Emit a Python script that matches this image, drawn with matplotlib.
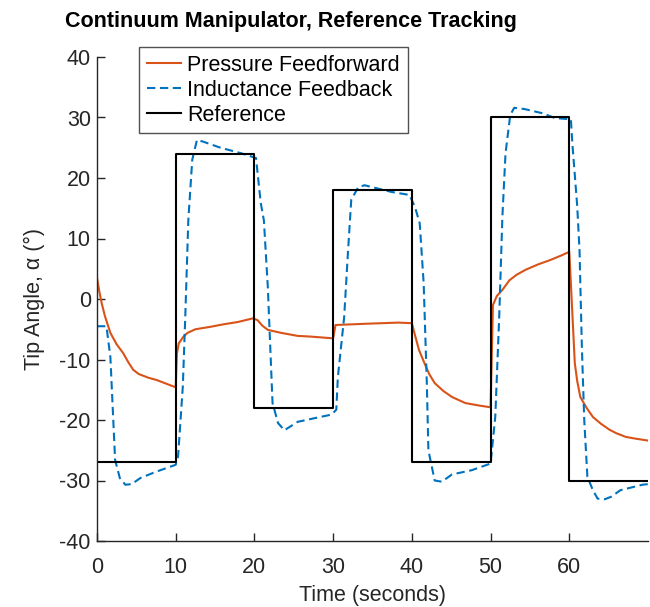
import matplotlib
matplotlib.use('Agg')
import matplotlib.pyplot as plt

# reference step input
ref_t = [0, 10, 20, 30, 40, 50, 60, 70]
ref_v = [-27, 24, -18, 18, -27, 30, -30, -30]

# pressure feedforward response
ff_t = [0, 0.3, 0.6, 1.0, 1.7, 2.5, 3.3, 4.0, 4.6, 5.3, 6.5, 7.6, 9.0, 10.0,
        10.15, 10.4, 11.0, 11.5, 12.5, 14.4, 16.0, 17.9, 19.8,
        20.4, 21.0, 21.7, 23.4, 25.5, 27, 30.0,
        30.3, 34, 38.3, 40.0,
        40.4, 40.9, 41.6, 42.2, 42.9, 44.0, 45.1, 46.8, 48.5, 50.0,
        50.3, 50.8, 51.5, 52.4, 53.3, 54.4, 56.0, 57.5, 59.0, 60.0,
        60.3, 60.7, 61.0, 61.4, 62.2, 63.0, 64.0, 65.1, 66.0, 67.2, 68.5, 70]
ff_v = [3.5, 1.2, -0.7, -2.8, -5.6, -7.5, -8.9, -10.5, -11.7, -12.4, -13.0, -13.4, -14.1, -14.6,
        -9, -7.3, -6.2, -5.6, -5.0, -4.6, -4.2, -3.8, -3.2,
        -3.5, -4.4, -5.1, -5.6, -6.1, -6.2, -6.5,
        -4.3, -4.1, -3.9, -4.0,
        -6.0, -8.4, -10.6, -12.4, -13.9, -15.2, -16.2, -17.2, -17.6, -17.9,
        -1.0, 0.5, 1.5, 3.1, 4.0, 4.8, 5.7, 6.4, 7.2, 7.8,
        0, -10.6, -13.5, -16.2, -18.0, -19.5, -20.6, -21.6, -22.2, -22.8, -23.1, -23.4]

# inductance feedback response
fb_t = [0, 1.2, 1.7, 2.3, 2.9, 3.6, 4.4, 5.5, 7.4, 10.0, 10.3, 10.9, 11.2, 11.6,
        12.1, 12.7, 13.5, 15.7, 18.3, 20.2, 20.8, 21.2, 21.7, 22.3, 23.0, 23.8,
        25.5, 28, 29.8, 30.4, 30.6, 31.4, 31.9, 32.3, 33.2, 34, 37.4, 39.7, 40.4,
        41.0, 41.5, 41.9, 42.1, 42.9, 43.8, 45.1, 47.6, 50.0, 50.6, 51.1, 51.5,
        51.9, 52.5, 53, 54.3, 56.6, 58.2, 60.2, 60.4, 61.0, 61.3, 61.6, 61.9,
        62.3, 63.0, 63.6, 64.5, 65.3, 66.5, 69.3, 70]
fb_v = [-4.5, -4.5, -9.6, -26.6, -29.6, -30.7, -30.6, -29.6, -28.6, -27.4, -26,
        -14.5, -3.5, 13, 23, 26.3, 26, 25, 24.1, 23.3, 15.9, 13, 2, -17.2, -20.5,
        -21.7, -20.3, -19.6, -19.1, -18.3, -12.9, -3, 8.1, 16.4, 18.5, 18.8, 17.7,
        17.2, 15.2, 12.5, 2.6, -13.9, -25, -30, -30.2, -29, -28.3, -27.2, -19.4,
        -2.9, 13.6, 24.1, 30.4, 31.6, 31.4, 30.7, 29.9, 29.7, 25.5, 15.5, 8.1,
        -8, -20, -29.4, -31.6, -33, -33.1, -32.7, -31.6, -30.7, -30.6]

plt.rcParams['font.family'] = ['Liberation Sans', 'DejaVu Sans']
plt.rcParams['axes.unicode_minus'] = False
fs = 15.5
axc = '#262626'

fig = plt.figure(figsize=(6.5, 6.07), dpi=100)
ax = fig.add_axes([97/650, 1 - 541/607, (648 - 97)/650, (541 - 57)/607])

ax.plot(ff_t, ff_v, color='#D95319', lw=1.5, label='Pressure Feedforward')
ax.plot(fb_t, fb_v, color='#0072BD', lw=1.5, dashes=(4, 2.2), label='Inductance Feedback')
ax.plot(ref_t, ref_v, color='black', lw=1.5, drawstyle='steps-post', label='Reference')

ax.set_xlim(0, 70)
ax.set_ylim(-40, 40)
ax.set_xticks(range(0, 61, 10))
ax.set_yticks(range(-40, 41, 10))
ax.spines['top'].set_visible(False)
ax.spines['right'].set_visible(False)
for s in ['left', 'bottom']:
    ax.spines[s].set_color(axc)
    ax.spines[s].set_linewidth(1.0)
ax.tick_params(direction='in', length=6, width=1.0, colors=axc, labelsize=fs)
ax.tick_params(axis='x', pad=11.5)
ax.tick_params(axis='y', pad=4.5)
for lab in ax.get_xticklabels() + ax.get_yticklabels():
    lab.set_color(axc)

ax.set_xlabel('Time (seconds)', fontsize=fs, color=axc, labelpad=5)
ax.set_ylabel('Tip Angle, α (°)', fontsize=fs, color=axc, labelpad=10)
fig.text(65/650, 1 - 27/607, 'Continuum Manipulator, Reference Tracking',
         fontsize=fs, fontweight='bold', ha='left', va='baseline')

leg = ax.legend(loc='upper left', bbox_to_anchor=(139/650, 1 - 47/607),
                bbox_transform=fig.transFigure, fontsize=fs, frameon=True,
                fancybox=False, edgecolor=axc, handlelength=1.6, handletextpad=0.3,
                labelspacing=0.19, borderpad=0.35, borderaxespad=0)
leg.get_frame().set_linewidth(1.0)

fig.savefig('out.png', dpi=100)
